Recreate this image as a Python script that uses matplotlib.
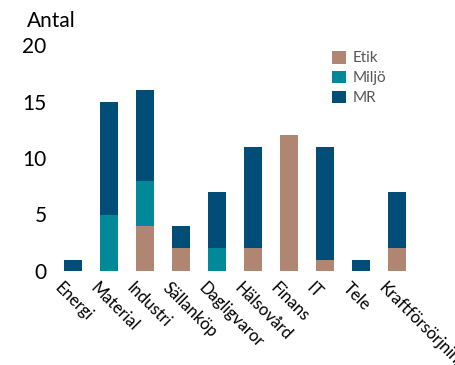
import matplotlib
matplotlib.use('Agg')
import matplotlib.pyplot as plt
import matplotlib.transforms as mtransforms
import numpy as np

plt.rcParams['font.family'] = ['Lato', 'DejaVu Sans']

# sectors and number of cases per category
sectors = ['Energi', 'Material', 'Industri', 'Sällanköp', 'Dagligvaror',
           'Hälsovård', 'Finans', 'IT', 'Tele', 'Kraftförsörjning']
etik = [0, 0, 4, 2, 0, 2, 12, 1, 0, 2]
miljo = [0, 5, 4, 0, 2, 0, 0, 0, 0, 0]
mr = [1, 10, 8, 2, 5, 9, 0, 10, 1, 5]
y_ticks = [0, 5, 10, 15, 20]

colors = {'Etik': '#B08673', 'Miljö': '#008999', 'MR': '#004D78'}

fig = plt.figure(figsize=(4.56, 3.65), dpi=100)
ax = fig.add_axes([52 / 456, 94 / 365, (456 - 52) / 456, 226 / 365])

x = np.arange(len(sectors))
etik = np.array(etik)
miljo = np.array(miljo)
mr = np.array(mr)

ax.bar(x, etik, width=0.5, color=colors['Etik'], label='Etik')
ax.bar(x, miljo, width=0.5, bottom=etik, color=colors['Miljö'], label='Miljö')
ax.bar(x, mr, width=0.5, bottom=etik + miljo, color=colors['MR'], label='MR')

ax.set_xlim(-0.583, -0.583 + 404 / 36)
ax.set_ylim(0, 20)
ax.set_yticks(y_ticks)
ax.set_yticklabels([str(t) for t in y_ticks], fontsize=15)
ax.set_xticks(x)
ax.set_xticklabels(sectors, rotation=-45, ha='left', va='top',
                   rotation_mode='anchor', fontsize=12)
ax.tick_params(axis='both', length=0)
ax.tick_params(axis='y', pad=4)
ax.tick_params(axis='x', pad=6)
for s in ax.spines.values():
    s.set_visible(False)

# nudge the slanted sector names to start under the bar's left half
shift = mtransforms.ScaledTranslation(-10 / 100, 0, fig.dpi_scale_trans)
for lbl in ax.get_xticklabels():
    lbl.set_transform(lbl.get_transform() + shift)

fig.text(27 / 456, 1 - 27 / 365, 'Antal', fontsize=15, ha='left', va='baseline')

ax.legend(loc='upper left', bbox_to_anchor=(0.66, 1.035), frameon=False,
          fontsize=11, handlelength=0.9, handleheight=0.9, handletextpad=0.4,
          labelspacing=0.35, labelcolor='#555555')

fig.savefig('out.png', dpi=100)
